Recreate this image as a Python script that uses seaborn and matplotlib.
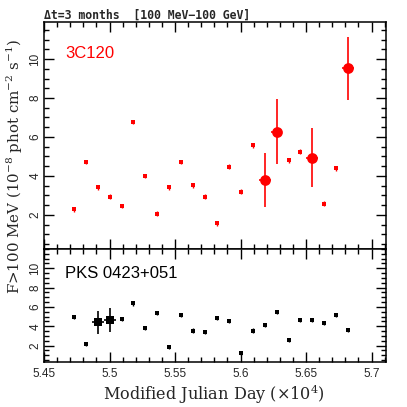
import numpy as np
import pandas as pd
import matplotlib
matplotlib.use("Agg")
import matplotlib.pyplot as plt
from matplotlib.ticker import MultipleLocator
import seaborn as sns

# ---- data ----
mjd_e4 = [5.4728, 5.4819, 5.4910, 5.5001, 5.5092, 5.5183, 5.5274, 5.5365,
          5.5456, 5.5547, 5.5638, 5.5729, 5.5820, 5.5911, 5.6002, 5.6093,
          5.6184, 5.6275, 5.6366, 5.6457, 5.6548, 5.6639, 5.6730, 5.6821]

flux_3c120 = [2.28, 4.72, 3.42, 2.94, 2.46, 6.77, 4.00, 2.07, 3.42, 4.72, 3.52, 2.94,
              1.56, 4.48, 3.20, 5.57, 3.78, 6.26, 4.80, 5.25, 4.94, 2.58, 4.39, 9.52]
err_3c120 = [0.12, 0.12, 0.12, 0.12, 0.12, 0.12, 0.12, 0.12, 0.12, 0.12, 0.12, 0.12,
             0.12, 0.12, 0.12, 0.12, 1.40, 1.67, 0.12, 0.12, 1.50, 0.12, 0.12, 1.60]
big_3c120 = [0, 0, 0, 0, 0, 0, 0, 0, 0, 0, 0, 0, 0, 0, 0, 0, 1, 1, 0, 0, 1, 0, 0, 1]

flux_pks = [4.93, 2.14, 4.41, 4.62, 4.72, 6.37, 3.82, 5.34, 1.86, 5.13, 3.55, 3.37,
            4.82, 4.58, 1.27, 3.55, 4.10, 5.44, 2.55, 4.62, 4.62, 4.30, 5.13, 3.62]
err_pks = [0.22, 0.22, 1.16, 1.25, 0.22, 0.22, 0.22, 0.22, 0.22, 0.22, 0.22, 0.22,
           0.22, 0.22, 0.22, 0.22, 0.22, 0.22, 0.22, 0.22, 0.22, 0.22, 0.22, 0.22]
big_pks = [0, 0, 1, 1, 0, 0, 0, 0, 0, 0, 0, 0, 0, 0, 0, 0, 0, 0, 0, 0, 0, 0, 0, 0]

bin_half_e4 = 0.0045

df_top = pd.DataFrame({"mjd": mjd_e4, "flux": flux_3c120, "err": err_3c120, "big": big_3c120})
df_bot = pd.DataFrame({"mjd": mjd_e4, "flux": flux_pks, "err": err_pks, "big": big_pks})

sns.set_style("ticks")
plt.rcParams["font.family"] = ["Liberation Sans", "DejaVu Sans"]
plt.rcParams["mathtext.fontset"] = "dejavuserif"

fig = plt.figure(figsize=(4.07, 4.07), dpi=100)
L, R = 44 / 407, 386 / 407
ax1 = fig.add_axes([L, 1 - 249 / 407, R - L, (249 - 22) / 407])
ax2 = fig.add_axes([L, 1 - 362 / 407, R - L, (362 - 249) / 407], sharex=ax1)


def draw(ax, df, color, bigmarker, bigsize):
    small = df[df.big == 0]
    big = df[df.big == 1]
    ax.errorbar(small.mjd, small.flux, yerr=small.err, fmt="none",
                ecolor=color, elinewidth=1.0, capsize=0, zorder=2)
    sns.scatterplot(data=small, x="mjd", y="flux", ax=ax, color=color,
                    marker="s", s=5, linewidth=0, zorder=3, legend=False)
    ax.errorbar(big.mjd, big.flux, yerr=big.err, xerr=bin_half_e4, fmt="none",
                ecolor=color, elinewidth=1.2, capsize=0, zorder=2)
    sns.scatterplot(data=big, x="mjd", y="flux", ax=ax, color=color,
                    marker=bigmarker, s=bigsize, linewidth=0, zorder=3, legend=False)


draw(ax1, df_top, "#ff0000", "o", 60)
draw(ax2, df_bot, "black", "s", 38)

for ax in (ax1, ax2):
    ax.set_xlim(5.45, 5.711)
    ax.xaxis.set_major_locator(MultipleLocator(0.05))
    ax.xaxis.set_minor_locator(MultipleLocator(0.01))
    ax.yaxis.set_major_locator(MultipleLocator(2))
    ax.yaxis.set_minor_locator(MultipleLocator(0.5))
    ax.tick_params(which="both", direction="in", top=True, right=True,
                   width=1.0, color="black")
    ax.tick_params(which="major", length=7)
    ax.tick_params(which="minor", length=3.5)
    ax.tick_params(axis="y", labelsize=8.5, pad=2)
    ax.tick_params(axis="x", labelsize=8.5, pad=4)
    for s in ax.spines.values():
        s.set_linewidth(1.1)
        s.set_color("black")
    ax.set_xlabel("")
    ax.set_ylabel("")

ax1.set_ylim(0.25, 11.9)
ax2.set_ylim(0.3, 12.0)
ax1.set_yticks([2, 4, 6, 8, 10])
ax2.set_yticks([2, 4, 6, 8, 10])
for ax in (ax1, ax2):
    for lab in ax.get_yticklabels():
        lab.set_rotation(90)
        lab.set_va("center")
plt.setp(ax1.get_xticklabels(), visible=False)
ax2.set_xticks([5.45, 5.5, 5.55, 5.6, 5.65, 5.7])
ax2.set_xticklabels(["5.45", "5.5", "5.55", "5.6", "5.65", "5.7"])

ax1.text(65 / 407, 1 - 54 / 407, "3C120", transform=fig.transFigure, color="#ff0000",
         fontsize=12, va="center", ha="left")
ax2.text(65 / 407, 1 - 273 / 407, "PKS 0423+051", transform=fig.transFigure, color="black",
         fontsize=12, va="center", ha="left")

fig.text(44 / 407, 1 - 15 / 407, "\u0394t=3 months  [100 MeV\u2212100 GeV]",
         family=["DejaVu Sans Mono"], fontweight="bold", fontsize=8.3,
         ha="left", va="center")
fig.text(214 / 407, 1 - 394 / 407, "Modified Julian Day (\u00d710$^{4}$)",
         family=["DejaVu Serif"], fontsize=11.6, ha="center", va="center")
fig.text(15 / 407, 1 - 167 / 407,
         "F>100 MeV (10$^{-8}$ phot cm$^{-2}$ s$^{-1}$)",
         family=["DejaVu Serif"], fontsize=10.8, ha="center", va="center", rotation=90)

fig.savefig("out.png", dpi=100)
